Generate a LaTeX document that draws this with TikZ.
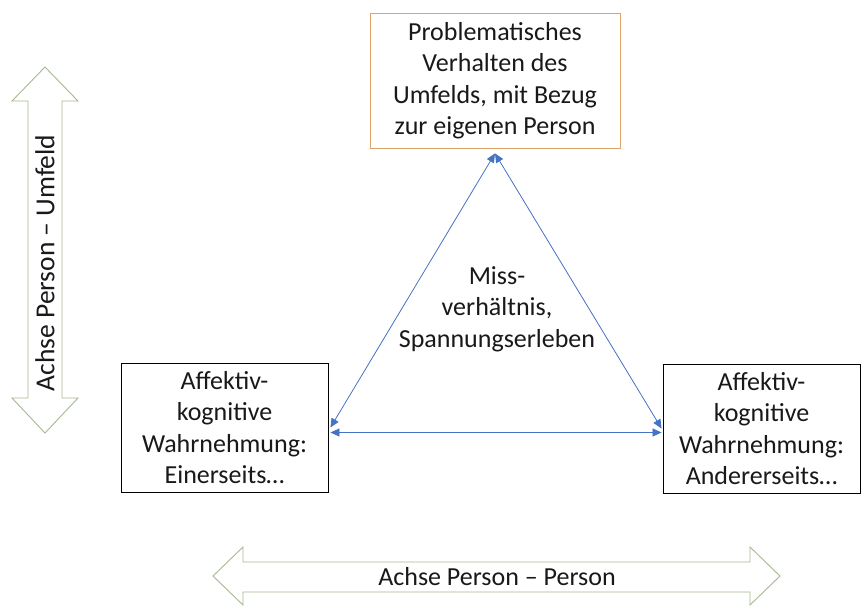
\documentclass[tikz,border=0pt]{standalone}
\usepackage{fontspec}
\setmainfont{Carlito}
\usetikzlibrary{arrows.meta}
\definecolor{txt}{RGB}{25,25,25}
\definecolor{orangeborder}{RGB}{222,163,105}
\definecolor{arrowgreen}{RGB}{165,185,145}
\definecolor{triblue}{RGB}{68,114,196}
\begin{document}
\begin{tikzpicture}[x=1pt,y=-1pt,
  boxstyle/.style={draw=black, line width=0.9pt, fill=white, align=center, inner sep=0pt, text=txt, font=\fontsize{26}{31.5}\selectfont},
  lbl/.style={align=center, inner sep=0pt, text=txt, font=\fontsize{26}{31.5}\selectfont},
  blockarrow/.style={draw=arrowgreen, line width=0.9pt, fill=white, line join=miter},
  tri/.style={draw=triblue, line width=0.8pt, {Triangle[length=9pt,width=8pt]}-{Triangle[length=9pt,width=8pt]}}
]
\useasboundingbox (0,0) rectangle (861,608);
\fill[white] (0,0) rectangle (861,608);

% boxes
\node[boxstyle, draw=orangeborder, minimum width=250pt, minimum height=135pt] (top) at (495,80.5)
  {Problematisches\\Verhalten des\\Umfelds, mit Bezug\\zur eigenen Person};
\node[boxstyle, minimum width=207pt, minimum height=129pt] (left) at (224.5,427.5)
  {Affektiv-\\kognitive\\Wahrnehmung:\\Einerseits…};
\node[boxstyle, minimum width=197pt, minimum height=129pt] (right) at (761.5,428.5)
  {Affektiv-\\kognitive\\Wahrnehmung:\\Andererseits…};

% centre text
\node[lbl] (mid) at (497,309) {Miss-\\verhältnis,\\Spannungserleben};

% triangle connectors
\draw[tri] ([yshift=-5pt]top.south) -- ([xshift=2pt]left.east);
\draw[tri] ([yshift=-5pt]top.south) -- ([xshift=-1pt]right.west);
\draw[tri] ([xshift=2pt,yshift=-5pt]left.east) -- ([xshift=-1pt,yshift=-4pt]right.west);

% horizontal block arrow
\draw[blockarrow] (213,576) -- (243,547) -- (243,562) -- (750,562) -- (750,547) -- (780,576)
  -- (750,605) -- (750,592) -- (243,592) -- (243,605) -- cycle;
\node[lbl] (hlabel) at (497,577) {Achse Person – Person};

% vertical block arrow
\draw[blockarrow] (45,67) -- (78,101) -- (62,101) -- (62,398) -- (78,398) -- (45,433)
  -- (12,398) -- (28,398) -- (28,101) -- (12,101) -- cycle;
\node[lbl, rotate=90, font=\fontsize{27.5}{32}\selectfont] (vlabel) at (45,263) {Achse Person – Umfeld};
\end{tikzpicture}
\end{document}
